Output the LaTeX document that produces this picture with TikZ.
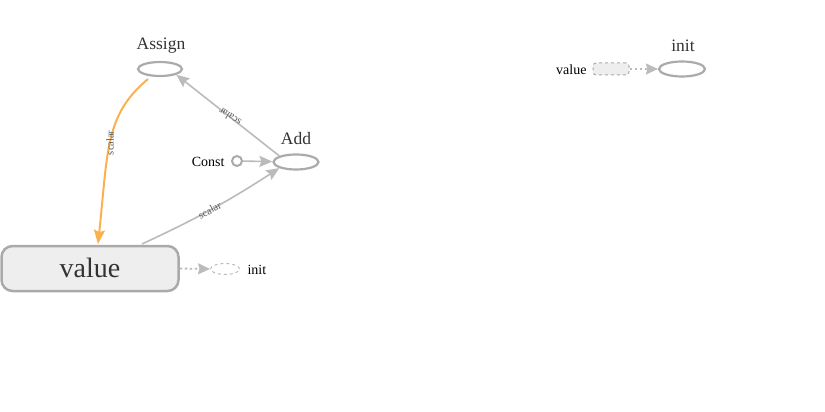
\documentclass[tikz,border=0pt]{standalone}
\usepackage{fontspec}
\setmainfont{Liberation Serif}
\usetikzlibrary{shapes.geometric,arrows.meta}
\definecolor{edgegray}{HTML}{BBBBBB}
\definecolor{nodegray}{HTML}{AAAAAA}
\definecolor{fillgray}{HTML}{EEEEEE}
\definecolor{refedge}{HTML}{FBB24E}
\definecolor{labelgray}{HTML}{333333}
\begin{document}
\begin{tikzpicture}[x=1pt,y=-1pt,
  opnode/.style={ellipse,draw=nodegray,line width=2.2pt,minimum width=44pt,minimum height=14pt,inner sep=0pt},
  varbox/.style={rectangle,rounded corners=11pt,draw=nodegray,fill=fillgray,line width=2.5pt,minimum width=177pt,minimum height=45pt,inner sep=0pt},
  flow/.style={draw=edgegray,line width=1.6pt,-{Stealth[length=13pt,width=11pt,inset=2pt]}},
  ctrl/.style={draw=edgegray,line width=1.8pt,dash pattern=on 2.5pt off 2.5pt,-{Stealth[length=12pt,width=11pt,inset=1.5pt]}},
  elabel/.style={font=\fontsize{10.5}{10.5}\selectfont,text=black!65,inner sep=0.5pt},
  oplabel/.style={font=\fontsize{17.5}{17.5}\selectfont,text=labelgray},
  smalltext/.style={font=\fontsize{14}{14}\selectfont}]
\useasboundingbox (0,0) rectangle (825,412);

\node[opnode] (assign) at (160,69) {};
\node[oplabel] (assigntext) at (161,46) {Assign};
\node[opnode,minimum width=45pt,minimum height=15pt] (add) at (296,162) {};
\node[oplabel] (addtext) at (296,139) {Add};
\node[circle,draw=nodegray,line width=2pt,minimum size=10pt,inner sep=0pt] (const) at (237,161) {};
\node[smalltext,anchor=east] (consttext) at (228,162) {Const};
\node[varbox] (value) at (90,268.5) {};
\node[font=\fontsize{28}{28}\selectfont,text=labelgray] (valuetext) at (90,268) {value};
\node[ellipse,draw=edgegray,dashed,line width=1pt,minimum width=29pt,minimum height=11pt,inner sep=0pt] (initref) at (225,269) {};
\node[smalltext,anchor=west] (initreftext) at (244,270) {init};
\coordinate (valueout) at (142,244);

\draw[flow] (const) -- (add);
\draw[flow] (add.north west) -- node[elabel,pos=0.48,rotate=147] {scalar} (assign.south east);
\draw[flow] (valueout) to[bend right=4] node[elabel,pos=0.48,rotate=28] {scalar} (add.south west);
\draw[refedge,line width=2pt,-{Stealth[length=14pt,width=11pt,inset=2pt]}] (148,79) .. controls (105,115) and (108,150) .. node[elabel,pos=0.52,rotate=90] {scalar} (98,244);
\draw[ctrl] (value.east) -- (initref.west);

\node[opnode,minimum width=46pt,minimum height=15pt] (init) at (682,69) {};
\node[oplabel] (inittext) at (683,46) {init};
\node[rectangle,rounded corners=3pt,draw=nodegray,fill=fillgray,dashed,line width=1pt,minimum width=36pt,minimum height=12pt,inner sep=0pt] (valueref) at (611,69) {};
\node[smalltext,anchor=east] (valuereftext) at (590,70) {value};
\draw[ctrl] (valueref.east) -- (init.west);
\end{tikzpicture}
\end{document}
